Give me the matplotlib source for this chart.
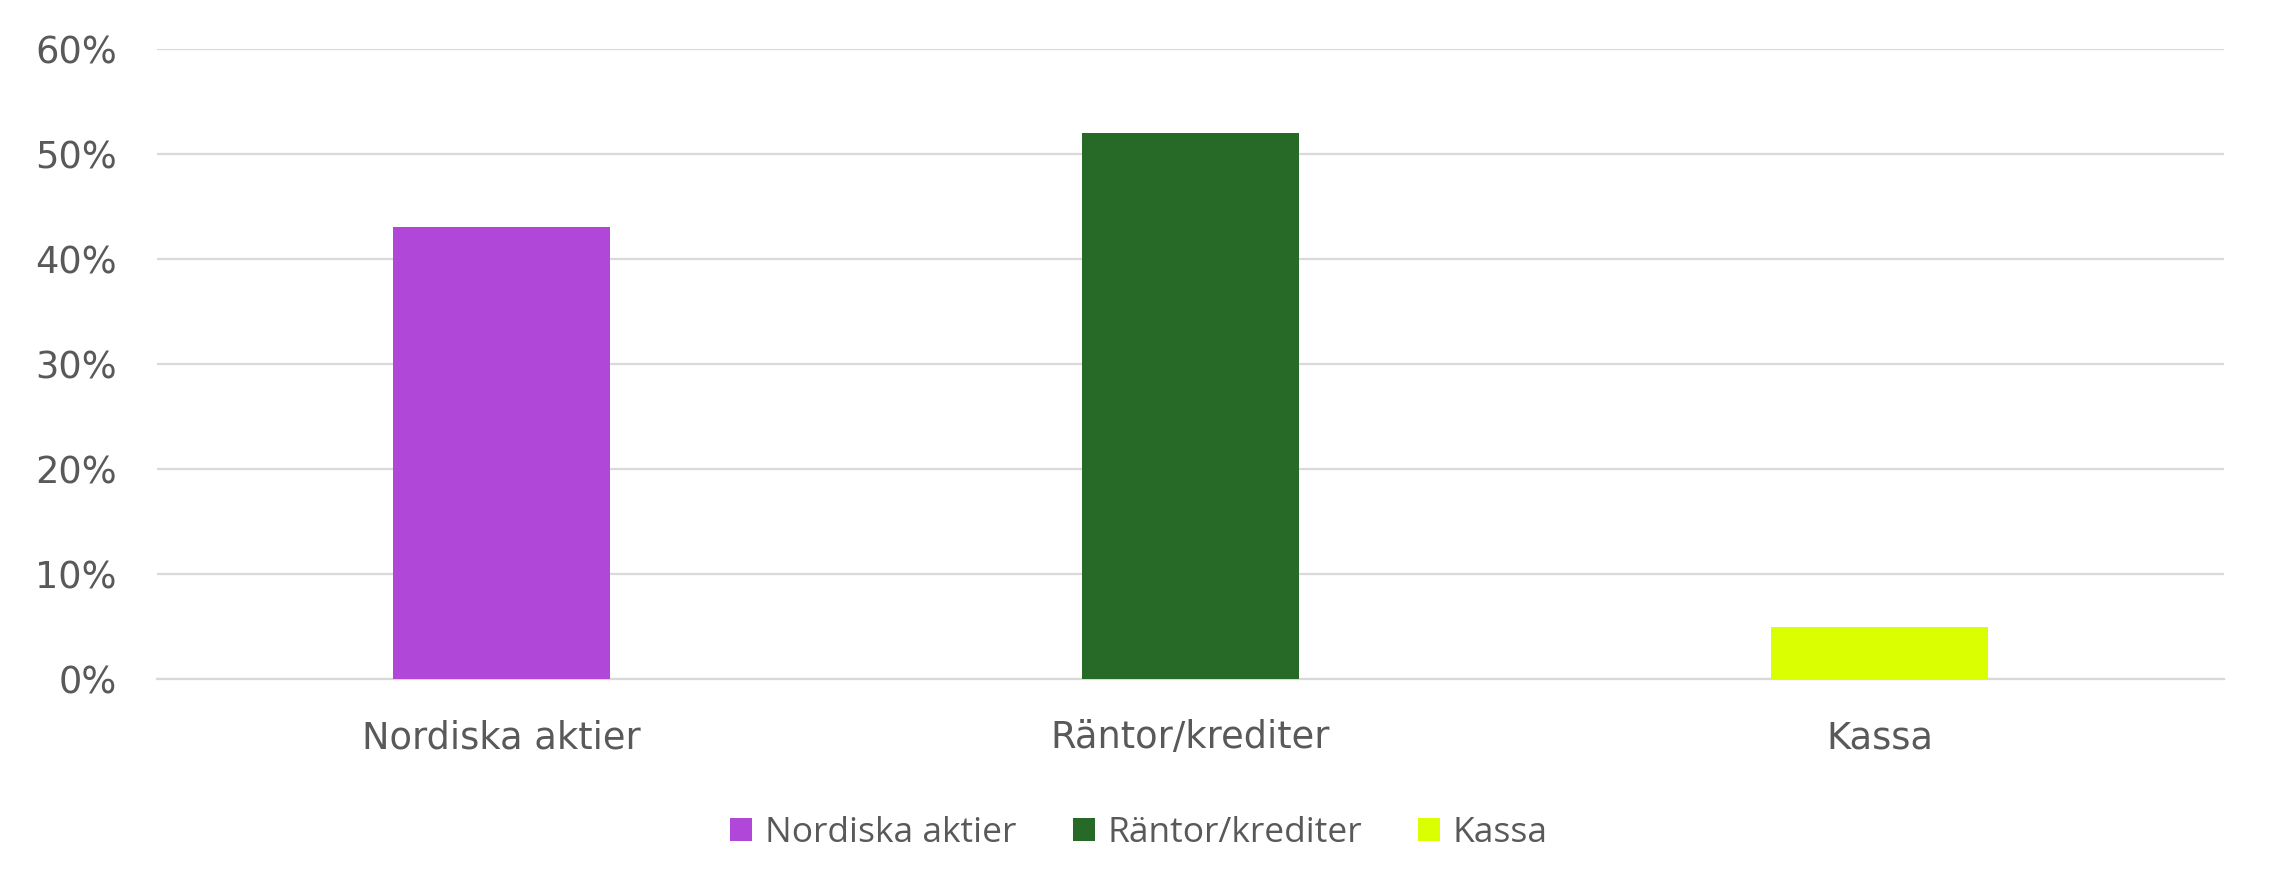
import numpy as np
import matplotlib.pyplot as plt
from matplotlib.patches import Patch
from matplotlib.ticker import PercentFormatter

# Data
categories = ['Nordiska aktier', 'Räntor/krediter', 'Kassa']
values = [43, 52, 5]
colors = ['#B147D8', '#276A27', '#D9FF00']
y_ticks = [0, 10, 20, 30, 40, 50, 60]

text_color = '#595959'

fig = plt.figure(figsize=(22.76, 8.96), dpi=100)
ax = fig.add_axes([157 / 2276, 1 - 679 / 896, (2224 - 157) / 2276, (679 - 49) / 896])

x = np.arange(len(categories))
ax.bar(x, values, width=0.315, color=colors, zorder=3)

ax.set_xlim(-0.5, len(categories) - 0.5)
ax.set_ylim(0, 60)
ax.set_yticks(y_ticks)
ax.yaxis.set_major_formatter(PercentFormatter(decimals=0))
ax.set_xticks(x)
ax.set_xticklabels(categories)

ax.yaxis.grid(True, color='#D9D9D9', linewidth=1.6, zorder=0)
ax.set_axisbelow(True)
for side in ['top', 'right', 'left']:
    ax.spines[side].set_visible(False)
ax.spines['bottom'].set_color('#D9D9D9')
ax.spines['bottom'].set_linewidth(1.6)

ax.tick_params(axis='both', length=0, labelsize=26.5, labelcolor=text_color)
ax.tick_params(axis='y', pad=29)
ax.tick_params(axis='x', pad=29)
for lab in ax.get_xticklabels() + ax.get_yticklabels():
    lab.set_family('DejaVu Sans')

# Legend
handles = [Patch(facecolor=c, label=n) for c, n in zip(colors, categories)]
fig.legend(handles=handles, loc='center', bbox_to_anchor=(1139 / 2276, 1 - 833 / 896),
           ncol=3, frameon=False, handlelength=0.62, handleheight=0.62, handletextpad=0.35,
           columnspacing=1.6, prop={'family': 'Open Sans', 'size': 25.5},
           labelcolor=text_color)

plt.savefig('out.png', dpi=100)
plt.close(fig)
